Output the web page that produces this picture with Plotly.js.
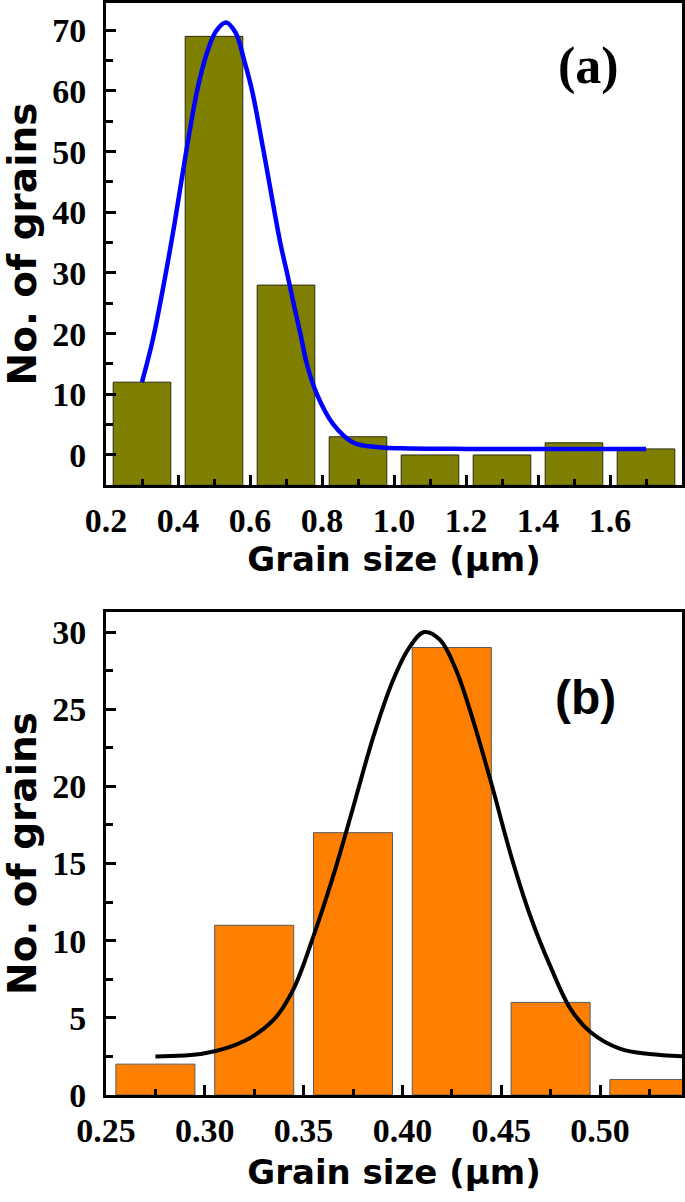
<!DOCTYPE html>
<html><head><meta charset="utf-8">
<script src="https://cdn.plot.ly/plotly-3.0.1.min.js"></script>
<style>html,body{margin:0;padding:0;background:#fff}#chart{width:685px;height:1202px}</style>
</head><body><div id="chart"></div>
<script>
// Panel (a)
const binCentersA = [0.3, 0.5, 0.7, 0.9, 1.1, 1.3, 1.5, 1.7];
const countsA = [12, 69, 28, 3, 0, 0, 2, 1];
const fitAx = [0.30, 0.33, 0.36, 0.39, 0.42, 0.453, 0.479, 0.505, 0.533, 0.56, 0.584, 0.606, 0.638, 0.684, 0.703, 0.721, 0.74, 0.758, 0.786, 0.832, 0.888, 0.95, 1.02, 1.2, 1.45, 1.7];
const fitAy = [12, 19, 28, 38, 49, 60, 66, 69.8, 71.3, 69.6, 65, 60, 50, 35, 30, 25, 20, 15, 10, 5, 2, 1.3, 1.1, 1.0, 1.0, 1.0];
const xTicksA = [0.2, 0.4, 0.6, 0.8, 1.0, 1.2, 1.4, 1.6];
const yTicksA = [0, 10, 20, 30, 40, 50, 60, 70];
const baseA = -5;

// Panel (b)
const binCentersB = [0.275, 0.325, 0.375, 0.425, 0.475, 0.525];
const countsB = [2, 11, 17, 29, 6, 1];
const fitBx = [0.275, 0.30, 0.32, 0.335, 0.345, 0.355, 0.365, 0.375, 0.385, 0.395, 0.403, 0.411, 0.419, 0.427, 0.435, 0.445, 0.455, 0.465, 0.475, 0.485, 0.495, 0.51, 0.525, 0.545];
const fitBy = [2.5, 2.7, 3.5, 4.9, 6.9, 10.3, 14.2, 18.6, 23.1, 26.8, 28.9, 30.0, 29.5, 27.6, 24.6, 20.2, 15.5, 11.5, 8.3, 5.6, 4.1, 3.0, 2.65, 2.5];
const xTicksB = [0.25, 0.30, 0.35, 0.40, 0.45, 0.50];
const yTicksB = [0, 5, 10, 15, 20, 25, 30];

const xTitle = 'Grain size (μm)';
const yTitle = 'No. of grains';

const tickFont = {family: 'Liberation Serif', size: 34, color: '#000', weight: 'bold'};
const titleFont = {family: 'DejaVu Sans', size: 34, color: '#000', weight: 'bold'};
const yTitleFont = {family: 'DejaVu Sans', size: 39, color: '#000', weight: 'bold'};

function axisBase(extra) {
  return Object.assign({
    showline: true, linecolor: '#000', linewidth: 3, mirror: true,
    ticks: 'inside', tickcolor: '#000', tickwidth: 3, ticklen: 10,
    showgrid: false, zeroline: false, tickfont: tickFont, tickmode: 'array',
    fixedrange: true
  }, extra);
}

const traces = [
  {type: 'bar', x: binCentersA, y: countsA.map(v => v - baseA), base: baseA, width: 0.16,
   marker: {color: '#808000', line: {color: '#2b2b10', width: 1}}, xaxis: 'x', yaxis: 'y', showlegend: false},
  {type: 'scatter', mode: 'lines', x: fitAx, y: fitAy, line: {color: '#0000ff', width: 4.5, shape: 'spline', smoothing: 1.0},
   xaxis: 'x', yaxis: 'y', showlegend: false},
  {type: 'bar', x: binCentersB, y: countsB, width: 0.04,
   marker: {color: '#ff8000', line: {color: '#5a5a5a', width: 1}}, xaxis: 'x2', yaxis: 'y2', showlegend: false},
  {type: 'scatter', mode: 'lines', x: fitBx, y: fitBy, line: {color: '#000', width: 4, shape: 'spline', smoothing: 1.0},
   xaxis: 'x2', yaxis: 'y2', showlegend: false}
];

const layout = {
  width: 685, height: 1202,
  margin: {l: 106, r: 3, t: 3, b: 107},
  paper_bgcolor: '#fff', plot_bgcolor: '#fff',
  showlegend: false,
  xaxis: axisBase({domain: [0, 1], anchor: 'y', range: [0.2, 1.8], tickvals: xTicksA, tickformat: '.1f',
    ticklabelstandoff: 3,
    minor: {ticks: 'inside', ticklen: 6, tickwidth: 3, tickcolor: '#000', dtick: 0.1, tick0: 0.2, showgrid: false},
    title: {text: xTitle, font: titleFont, standoff: 9}}),
  yaxis: axisBase({domain: [0.5586, 1], anchor: 'x', range: [-4.95, 74.5], tickvals: yTicksA,
    ticklabelstandoff: 10,
    minor: {ticks: 'inside', ticklen: 7, tickwidth: 3, tickcolor: '#000', dtick: 5, tick0: 0, showgrid: false},
    title: {text: yTitle, font: yTitleFont, standoff: 14}}),
  xaxis2: axisBase({domain: [0, 1], anchor: 'y2', range: [0.25, 0.5415], tickvals: xTicksB, tickformat: '.2f',
    ticklabelstandoff: 3,
    minor: {ticks: 'inside', ticklen: 6, tickwidth: 3, tickcolor: '#000', dtick: 0.025, tick0: 0.25, showgrid: false},
    title: {text: xTitle, font: titleFont, standoff: 13}}),
  yaxis2: axisBase({domain: [0, 0.4423], anchor: 'x2', range: [0, 31.3], tickvals: yTicksB,
    ticklabelstandoff: 10,
    minor: {ticks: 'inside', ticklen: 7, tickwidth: 3, tickcolor: '#000', dtick: 2.5, tick0: 0, showgrid: false},
    title: {text: yTitle, font: yTitleFont, standoff: 14}}),
  annotations: [
    {text: '(a)', xref: 'x domain', yref: 'y domain', x: 0.837, y: 0.869, xanchor: 'center', yanchor: 'middle', showarrow: false,
     font: {family: 'Liberation Serif', size: 52, color: '#000', weight: 'bold'}},
    {text: '(b)', xref: 'x2 domain', yref: 'y2 domain', x: 0.833, y: 0.824, xanchor: 'center', yanchor: 'middle', showarrow: false,
     font: {family: 'Liberation Sans', size: 48, color: '#000', weight: 'bold'}}
  ],
  bargap: 0
};

Plotly.newPlot('chart', traces, layout, {staticPlot: true, displayModeBar: false});
</script>
</body></html>
